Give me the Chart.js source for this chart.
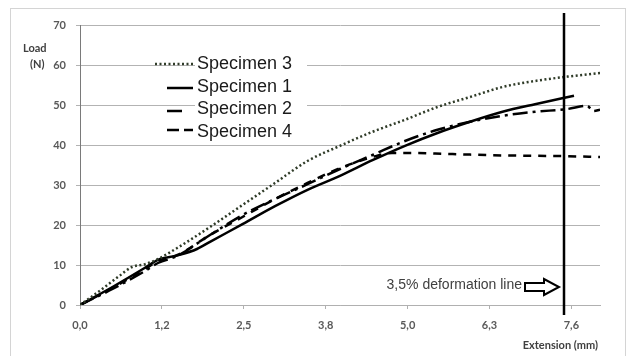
<!DOCTYPE html>
<html>
<head>
<meta charset="utf-8">
<script src="https://cdn.jsdelivr.net/npm/chart.js@4/dist/chart.umd.min.js"></script>
<style>
  body { margin: 0; background: #fff; }
  canvas { display: block; }
</style>
</head>
<body>
<canvas id="loadChart" width="629" height="356"></canvas>
<script>
// extension (mm) / load (N)
const spec3Ext  = [0, 0.3, 0.6, 0.8, 1.0, 1.2, 1.5, 2.0, 2.5, 3.0, 3.5, 4.0, 4.5, 5.0, 5.5, 6.0, 6.5, 7.0, 7.5, 8.0];
const spec3Load = [0, 3.5, 7.2, 9.5, 10.2, 11.5, 14.3, 19.5, 25, 30.5, 36, 39.8, 43.3, 46.3, 49.5, 52, 54.5, 56, 57.1, 58];

const spec1Ext  = [0, 0.5, 1.0, 1.2, 1.5, 1.8, 2.0, 2.5, 3.0, 3.5, 4.0, 4.5, 5.0, 5.5, 6.0, 6.5, 7.0, 7.6];
const spec1Load = [0, 4.5, 9.3, 11.3, 12.4, 14.0, 15.8, 20.2, 24.7, 28.8, 32.3, 36.2, 39.8, 43, 45.8, 48.3, 50.2, 52.3];

const spec2Ext  = [0, 0.5, 1.0, 1.2, 1.5, 2.0, 2.5, 3.0, 3.5, 4.0, 4.5, 5.0, 5.5, 6.0, 6.5, 7.0, 7.5, 7.8, 7.9, 8.0];
const spec2Load = [0, 4, 8.5, 10.5, 12.3, 17.5, 22.5, 26.5, 30.2, 34, 37.5, 41, 43.8, 45.8, 47.3, 48.3, 49, 49.8, 48.5, 48.8];

const spec4Ext  = [0, 0.5, 1.0, 1.2, 1.5, 2.0, 2.5, 3.0, 3.5, 4.0, 4.5, 4.8, 5.2, 5.6, 6.0, 6.5, 7.0, 7.5, 8.0];
const spec4Load = [0, 4.3, 9, 11, 12.5, 17.5, 22, 26.5, 30.5, 34.2, 37, 38, 38, 37.8, 37.6, 37.4, 37.3, 37.2, 37];

const xTickValues = [0, 1.26, 2.52, 3.78, 5.04, 6.3, 7.56];
const xTickLabels = ['0,0', '1,2', '2,5', '3,8', '5,0', '6,3', '7,6'];
const deformExt = 7.45;
const deformText = '3,5% deformation line';

const toPoints = (xs, ys) => xs.map((x, i) => ({ x: x, y: ys[i] }));

const specimens = [
  { label: 'Specimen 3', data: toPoints(spec3Ext, spec3Load), color: '#2f3b28', dash: [2, 2.5], width: 2.5 },
  { label: 'Specimen 1', data: toPoints(spec1Ext, spec1Load), color: '#000', dash: [], width: 2.5 },
  { label: 'Specimen 2', data: toPoints(spec2Ext, spec2Load), color: '#000', dash: [15, 5, 3, 5], width: 2.5 },
  { label: 'Specimen 4', data: toPoints(spec4Ext, spec4Load), color: '#000', dash: [8, 7], width: 2.5 }
];

// legend, titles, deformation line + arrow
const extras = {
  id: 'extras',
  beforeDraw(chart) {
    const c = chart.ctx;
    c.save();
    c.fillStyle = '#fff';
    c.fillRect(0, 0, chart.width, chart.height);
    c.strokeStyle = '#d4d4d4';
    c.lineWidth = 1;
    c.strokeRect(10.5, 8.5, 615, 360);
    c.restore();
  },
  afterDatasetsDraw(chart) {
    const c = chart.ctx;
    const xs = chart.scales.x;
    c.save();

    // legend
    c.fillStyle = '#fff';
    c.fillRect(195, 52, 112, 92);
    const rows = [
      { y: 64, x0: 155, x1: 193 },
      { y: 88, x0: 167, x1: 193 },
      { y: 111, x0: 167, x1: 182 },
      { y: 130, x0: 167, x1: 193 }
    ];
    specimens.forEach((s, i) => {
      const r = rows[i];
      c.strokeStyle = s.color;
      c.lineWidth = s.width;
      c.setLineDash(i === 3 ? [12, 5] : s.dash);
      c.beginPath();
      c.moveTo(r.x0, r.y);
      c.lineTo(r.x1, r.y);
      c.stroke();
      c.setLineDash([]);
      c.fillStyle = '#1a1a1a';
      c.font = '18px "Liberation Sans", Arial, sans-serif';
      c.textBaseline = 'middle';
      c.textAlign = 'left';
      c.fillText(s.label, 197, [64, 87, 109, 132][i]);
    });

    // axis titles
    c.fillStyle = '#404040';
    c.font = 'bold 11px Lato, sans-serif';
    c.textAlign = 'left';
    c.fillText('Load', 23, 48);
    c.fillText('(N)', 30, 64);
    c.textAlign = 'right';
    c.fillText('Extension (mm)', 598, 345);

    // deformation line
    const dx = Math.round(xs.getPixelForValue(deformExt));
    c.strokeStyle = '#000';
    c.lineWidth = 2.5;
    c.beginPath();
    c.moveTo(dx, 13);
    c.lineTo(dx, 315);
    c.stroke();

    c.fillStyle = '#404040';
    c.font = '14px "Liberation Sans", Arial, sans-serif';
    c.textAlign = 'right';
    c.textBaseline = 'middle';
    c.fillText(deformText, 522, 285);

    // hollow arrow
    c.fillStyle = '#fff';
    c.strokeStyle = '#000';
    c.lineWidth = 2;
    c.beginPath();
    c.moveTo(525, 283);
    c.lineTo(544, 283);
    c.lineTo(544, 279);
    c.lineTo(559, 287);
    c.lineTo(544, 295);
    c.lineTo(544, 291);
    c.lineTo(525, 291);
    c.closePath();
    c.fill();
    c.stroke();
    c.restore();
  }
};

new Chart(document.getElementById('loadChart'), {
  type: 'line',
  data: {
    datasets: specimens.map(s => ({
      label: s.label,
      data: s.data,
      borderColor: s.color,
      borderWidth: s.width,
      borderDash: s.dash,
      pointRadius: 0,
      fill: false,
      cubicInterpolationMode: 'monotone'
    }))
  },
  options: {
    responsive: false,
    animation: false,
    layout: { padding: { left: 0, top: 25, right: 29, bottom: 0 } },
    plugins: { legend: { display: false }, tooltip: { enabled: false } },
    scales: {
      x: {
        type: 'linear',
        min: 0,
        max: 8.0,
        afterBuildTicks: scale => { scale.ticks = xTickValues.map(v => ({ value: v })); },
        afterFit: scale => { scale.height = 51; },
        ticks: {
          padding: 10,
          color: '#595959',
          font: { family: 'Lato', size: 11, weight: 'bold' },
          callback: (v, i) => xTickLabels[i]
        },
        grid: { drawOnChartArea: false, tickLength: 4, color: '#b0b0b0' },
        border: { color: '#b0b0b0' }
      },
      y: {
        min: 0,
        max: 70,
        afterFit: scale => { scale.width = 80; },
        ticks: {
          stepSize: 10,
          padding: 10,
          color: '#595959',
          font: { family: 'Lato', size: 11, weight: 'bold' }
        },
        grid: { tickLength: 4, color: '#b3b3b3' },
        border: { color: '#7a7a7a' }
      }
    }
  },
  plugins: [extras]
});
</script>
</body>
</html>
